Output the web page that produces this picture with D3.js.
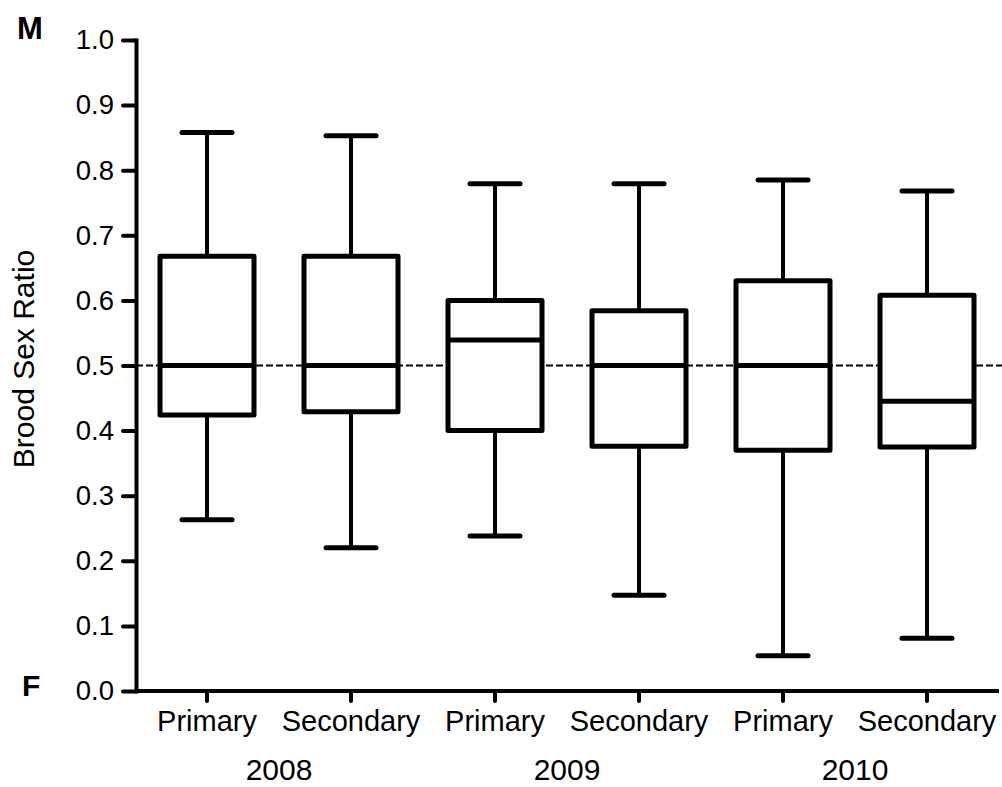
<!DOCTYPE html>
<html>
<head>
<meta charset="utf-8">
<script src="https://cdn.jsdelivr.net/npm/d3@7"></script>
<style>
  body { margin: 0; background: #fff; }
  svg text { font-family: Arial, "Liberation Sans", sans-serif; fill: #000; }
</style>
</head>
<body>
<div id="chart"></div>
<script>
// box plot values
const groups = ['Primary', 'Secondary', 'Primary', 'Secondary', 'Primary', 'Secondary']
const years = ['2008', '2009', '2010']
const mins = [0.263, 0.220, 0.238, 0.147, 0.054, 0.081]
const q1s = [0.424, 0.429, 0.400, 0.376, 0.370, 0.375]
const medians = [0.500, 0.500, 0.539, 0.500, 0.500, 0.445]
const q3s = [0.668, 0.668, 0.600, 0.584, 0.630, 0.608]
const maxs = [0.858, 0.853, 0.779, 0.779, 0.785, 0.768]
const yTicks = [0, 0.1, 0.2, 0.3, 0.4, 0.5, 0.6, 0.7, 0.8, 0.9, 1.0]
const refLine = 0.5

const width = 1002
const height = 787
const margin = { top: 40, right: 3, bottom: 96, left: 136 }

const data = groups.map((g, i) => ({
  key: i,
  group: g,
  min: mins[i],
  q1: q1s[i],
  median: medians[i],
  q3: q3s[i],
  max: maxs[i],
}))

const svg = d3
  .select('#chart')
  .append('svg')
  .attr('width', width)
  .attr('height', height)

const x = d3
  .scaleBand()
  .domain(data.map((d) => d.key))
  .range([margin.left - 1, width - margin.right])

const y = d3
  .scaleLinear()
  .domain([0, 1])
  .range([height - margin.bottom, margin.top])

const boxW = 94
const capW = 50

// reference line at 0.5
svg
  .append('line')
  .attr('x1', margin.left)
  .attr('x2', width)
  .attr('y1', y(refLine))
  .attr('y2', y(refLine))
  .attr('stroke', '#000')
  .attr('stroke-width', 2)
  .attr('stroke-dasharray', '7,3')

const box = svg
  .append('g')
  .selectAll('g')
  .data(data)
  .join('g')
  .attr('transform', (d) => `translate(${x(d.key) + x.bandwidth() / 2},0)`)

// whiskers
box
  .append('line')
  .attr('y1', (d) => y(d.max))
  .attr('y2', (d) => y(d.q3))
  .attr('stroke', '#000')
  .attr('stroke-width', 4)
box
  .append('line')
  .attr('y1', (d) => y(d.q1))
  .attr('y2', (d) => y(d.min))
  .attr('stroke', '#000')
  .attr('stroke-width', 4)

// caps
box
  .selectAll('.cap')
  .data((d) => [d.max, d.min])
  .join('line')
  .attr('class', 'cap')
  .attr('x1', -capW / 2)
  .attr('x2', capW / 2)
  .attr('y1', (v) => y(v))
  .attr('y2', (v) => y(v))
  .attr('stroke', '#000')
  .attr('stroke-width', 5)
  .attr('stroke-linecap', 'round')

// box
box
  .append('rect')
  .attr('x', -boxW / 2)
  .attr('width', boxW)
  .attr('y', (d) => y(d.q3))
  .attr('height', (d) => y(d.q1) - y(d.q3))
  .attr('fill', '#fff')
  .attr('stroke', '#000')
  .attr('stroke-width', 5)
  .attr('stroke-linejoin', 'round')

// median
box
  .append('line')
  .attr('x1', -boxW / 2)
  .attr('x2', boxW / 2)
  .attr('y1', (d) => y(d.median))
  .attr('y2', (d) => y(d.median))
  .attr('stroke', '#000')
  .attr('stroke-width', 5)

// Y axis
const yAxis = svg
  .append('g')
  .attr('transform', `translate(${margin.left},0)`)
  .call(d3.axisLeft(y).tickValues(yTicks).tickFormat(d3.format('.1f')).tickSize(13).tickSizeOuter(0).tickPadding(9))
yAxis.select('.domain').attr('stroke-width', 4).attr('stroke-linecap', 'square')
yAxis.selectAll('.tick line').attr('stroke-width', 4).attr('stroke-linecap', 'round')
yAxis.selectAll('.tick text').style('font-size', '27.5px')

// X axis
const xAxis = svg
  .append('g')
  .attr('transform', `translate(0,${height - margin.bottom})`)
  .call(
    d3
      .axisBottom(x)
      .tickFormat((k) => groups[k])
      .tickSize(10)
      .tickSizeOuter(0)
      .tickPadding(9),
  )
xAxis.select('.domain').attr('d', `M${margin.left},0H${width - margin.right}`).attr('stroke-width', 4)
xAxis.selectAll('.tick line').attr('stroke-width', 4).attr('stroke-linecap', 'round')
xAxis.selectAll('.tick text').style('font-size', '29px')

// year labels
svg
  .append('g')
  .selectAll('text')
  .data(years)
  .join('text')
  .attr('x', (d, i) => (x(i * 2) + x(i * 2 + 1) + x.bandwidth()) / 2)
  .attr('y', 780)
  .attr('text-anchor', 'middle')
  .style('font-size', '30px')
  .text((d) => d)

// y label
svg
  .append('text')
  .attr('transform', `translate(34,359) rotate(-90)`)
  .attr('text-anchor', 'middle')
  .style('font-size', '30px')
  .text('Brood Sex Ratio')

svg.append('text').attr('x', 17).attr('y', 39).style('font-size', '31px').style('font-weight', 'bold').text('M')
svg.append('text').attr('x', 22).attr('y', 696).style('font-size', '30px').style('font-weight', 'bold').text('F')
</script>
</body>
</html>
